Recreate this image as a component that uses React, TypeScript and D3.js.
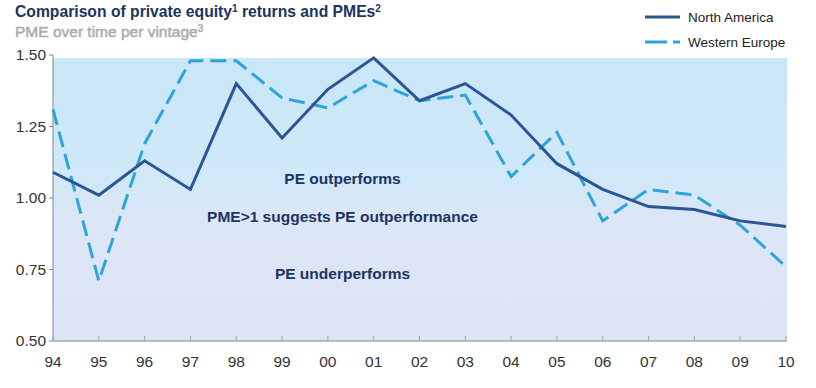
import React from "react";
import * as d3 from "d3";

// vintage years and PME values
const years = ["94", "95", "96", "97", "98", "99", "00", "01", "02", "03", "04", "05", "06", "07", "08", "09", "10"];
const northAmerica = [1.09, 1.01, 1.13, 1.03, 1.40, 1.21, 1.38, 1.49, 1.34, 1.40, 1.29, 1.12, 1.03, 0.97, 0.96, 0.92, 0.90];
const westernEurope = [1.31, 0.71, 1.19, 1.48, 1.48, 1.35, 1.315, 1.41, 1.34, 1.36, 1.075, 1.23, 0.92, 1.03, 1.01, 0.905, 0.76];
const yTicks = [0.5, 0.75, 1.0, 1.25, 1.5];

const W = 816;
const H = 388;
const FONT = "'Liberation Sans', Arial, Helvetica, sans-serif";
const NAVY = "#1c3461";
const NA_COLOR = "#2a5596";
const WE_COLOR = "#2ea5da";

export default function App() {
  const x = d3.scalePoint().domain(years).range([53, 786]);
  const y = d3.scaleLinear().domain([0.5, 1.5]).range([341, 55]);

  const line = d3
    .line<number>()
    .x((d, i) => x(years[i]) as number)
    .y(d => y(d));

  const x0 = x(years[0]) as number;
  const x1 = x(years[years.length - 1]) as number;

  return (
    <svg
      width={W}
      height={H}
      style={{ position: "absolute", left: 0, top: 0, background: "#fff" }}
      fontFamily={FONT}
    >
      <defs>
        <linearGradient id="bg" x1="0" y1="0" x2="0" y2="1">
          <stop offset="0" stopColor="#c9e7f7" />
          <stop offset="0.42" stopColor="#d0e8f7" />
          <stop offset="0.56" stopColor="#dbe6f6" />
          <stop offset="1" stopColor="#dde5f5" />
        </linearGradient>
      </defs>

      {/* title */}
      <text x={15} y={17} fontSize={15.7} fontWeight="bold" fill={NAVY}>
        Comparison of private equity<tspan fontSize={10} dy={-5}>1</tspan>
        <tspan dy={5}> returns and PMEs</tspan>
        <tspan fontSize={10} dy={-5}>2</tspan>
      </text>
      <text x={15} y={37} fontSize={15.5} fill="#a9acb0" stroke="#a9acb0" strokeWidth={0.5}>
        PME over time per vintage<tspan fontSize={10} dy={-5}>3</tspan>
      </text>

      {/* legend */}
      <line x1={645} x2={680} y1={17} y2={17} stroke={NA_COLOR} strokeWidth={3} />
      <text x={688} y={22} fontSize={13.5} fill="#222">North America</text>
      <line x1={645} x2={680} y1={42} y2={42} stroke={WE_COLOR} strokeWidth={3} strokeDasharray="22,6" />
      <text x={688} y={47} fontSize={13.5} fill="#222">Western Europe</text>

      {/* shaded plot area */}
      <rect x={x0} y={y(1.5) + 3} width={x1 - x0 + 1} height={y(0.5) - y(1.5) - 3} fill="url(#bg)" />

      {/* axes */}
      <line x1={x0} x2={x0} y1={y(1.5)} y2={y(0.5)} stroke="#7d8896" strokeWidth={1} />
      <line x1={x0} x2={x1 + 1} y1={y(0.5)} y2={y(0.5)} stroke="#7d8896" strokeWidth={1} />
      {yTicks.map(t => (
        <g key={t}>
          <line x1={x0 - 4} x2={x0} y1={y(t)} y2={y(t)} stroke="#7d8896" />
          <text x={46} y={y(t)} dy="0.35em" textAnchor="end" fontSize={15.5} fill="#333">
            {t.toFixed(2)}
          </text>
        </g>
      ))}
      {years.map(yr => (
        <g key={yr}>
          <line x1={x(yr)} x2={x(yr)} y1={y(0.5)} y2={y(0.5) - 5} stroke="#9aa4b0" />
          <text x={x(yr)} y={367} textAnchor="middle" fontSize={15.5} fill="#333">
            {yr}
          </text>
        </g>
      ))}

      {/* annotations */}
      <g fontSize={15.5} fontWeight="bold" fill={NAVY} textAnchor="middle">
        <text x={342.5} y={184}>PE outperforms</text>
        <text x={342.5} y={222}>PME&gt;1 suggests PE outperformance</text>
        <text x={342.5} y={279}>PE underperforms</text>
      </g>

      {/* series */}
      <path d={line(westernEurope) ?? ""} fill="none" stroke={WE_COLOR} strokeWidth={3} strokeDasharray="16,7" />
      <path d={line(northAmerica) ?? ""} fill="none" stroke={NA_COLOR} strokeWidth={3} strokeLinejoin="miter" />
    </svg>
  );
}
